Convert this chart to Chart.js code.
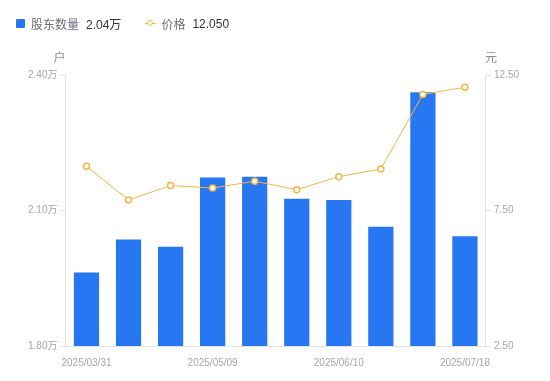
<!DOCTYPE html>
<html>
<head>
<meta charset="utf-8">
<script src="https://cdn.jsdelivr.net/npm/chart.js@4/dist/chart.umd.min.js"></script>
<style>
  body { margin: 0; background: #fff; font-family: 'Liberation Sans', 'Noto Sans CJK SC', sans-serif; }
  #wrap { position: relative; width: 550px; height: 381px; }
  #legend { position: absolute; left: 16px; top: 15px; font-size: 12px; display: flex; align-items: center; }
  .item { display: flex; align-items: center; margin-right: 24px; }
  .sq { width: 9px; height: 9px; background: #2777f2; border-radius: 1px; margin-right: 6px; }
  .ln { position: relative; width: 11px; height: 9px; margin-right: 5px; }
  .ln:before { content: ''; position: absolute; left: 0; top: 4px; width: 11px; height: 1px; background: #f6b442; }
  .ln:after { content: ''; position: absolute; left: 2px; top: 1px; width: 4px; height: 4px; border: 1.5px solid #f6b442; border-radius: 50%; background: #fff; }
  .name { color: #6b6e78; margin-right: 7px; }
  .val { color: #333; }
</style>
</head>
<body>
<div id="wrap">
  <div id="legend">
    <div class="item"><div class="sq"></div><span class="name">股东数量</span><span class="val">2.04万</span></div>
    <div class="item"><div class="ln"></div><span class="name">价格</span><span class="val">12.050</span></div>
  </div>
  <canvas id="chart" width="550" height="381"></canvas>
</div>
<script>
const dates = ['2025/03/31', '2025/04/10', '2025/04/20', '2025/05/09', '2025/05/20', '2025/05/30',
  '2025/06/10', '2025/06/20', '2025/06/30', '2025/07/18'];
// 股东数量 (万户)
const holders = [1.963, 2.036, 2.020, 2.173, 2.175, 2.126, 2.123, 2.064, 2.362, 2.043];
// 价格 (元)
const prices = [9.13, 7.89, 8.42, 8.33, 8.58, 8.27, 8.75, 9.03, 11.78, 12.05];
const leftTicks = [1.80, 2.10, 2.40];
const rightTicks = [2.50, 7.50, 12.50];

const tickColor = '#a3a6b4';
const lineColor = '#e3e4ea';
const fontFam = "'Liberation Sans', 'Noto Sans CJK SC', sans-serif";

const unitTitles = {
  id: 'unitTitles',
  afterDraw(chart) {
    const ctx = chart.ctx;
    const a = chart.chartArea;
    ctx.save();
    ctx.font = '12px ' + fontFam;
    ctx.fillStyle = '#8a8d98';
    ctx.textAlign = 'center';
    ctx.textBaseline = 'middle';
    ctx.fillText('户', a.left - 6, a.top - 16);
    ctx.fillText('元', a.right + 5, a.top - 16);
    ctx.restore();
  }
};

const config = {
  data: {
    labels: dates,
    datasets: [
      {
        type: 'line',
        label: '价格',
        data: prices,
        yAxisID: 'y1',
        borderColor: '#f6b442',
        borderWidth: 1,
        pointBackgroundColor: '#fff',
        pointBorderColor: '#f6b442',
        pointBorderWidth: 1.5,
        pointRadius: 3,
        tension: 0,
        order: 0
      },
      {
        type: 'bar',
        label: '股东数量',
        data: holders,
        yAxisID: 'y',
        backgroundColor: '#2777f2',
        barPercentage: 0.6,
        categoryPercentage: 1,
        order: 1
      }
    ]
  },
  options: {
    responsive: false,
    animation: false,
    devicePixelRatio: 1,
    layout: { padding: { top: 75, left: 25, right: 28, bottom: 9 } },
    plugins: { legend: { display: false }, tooltip: { enabled: false } },
    scales: {
      x: {
        grid: { display: false },
        border: { display: true, color: lineColor },
        ticks: {
          autoSkip: false,
          maxRotation: 0,
          color: tickColor,
          font: { size: 10, family: fontFam },
          padding: 3,
          callback: (v, i) => (i % 3 === 0 ? dates[i] : '')
        }
      },
      y: {
        position: 'left',
        min: 1.8,
        max: 2.4,
        afterBuildTicks: s => { s.ticks = leftTicks.map(v => ({ value: v })); },
        grid: { drawOnChartArea: false, drawTicks: true, tickLength: 5, color: lineColor },
        border: { display: true, color: lineColor },
        ticks: {
          color: tickColor,
          font: { size: 10, family: fontFam },
          padding: 3,
          callback: v => v.toFixed(2) + '万'
        }
      },
      y1: {
        position: 'right',
        min: 2.5,
        max: 12.5,
        afterBuildTicks: s => { s.ticks = rightTicks.map(v => ({ value: v })); },
        grid: { drawOnChartArea: false, drawTicks: true, tickLength: 5, color: lineColor },
        border: { display: true, color: lineColor },
        ticks: {
          color: tickColor,
          font: { size: 10, family: fontFam },
          padding: 3,
          callback: v => v.toFixed(2)
        }
      }
    }
  },
  plugins: [unitTitles]
};

const myChart = new Chart(document.getElementById('chart'), config);
</script>
</body>
</html>
